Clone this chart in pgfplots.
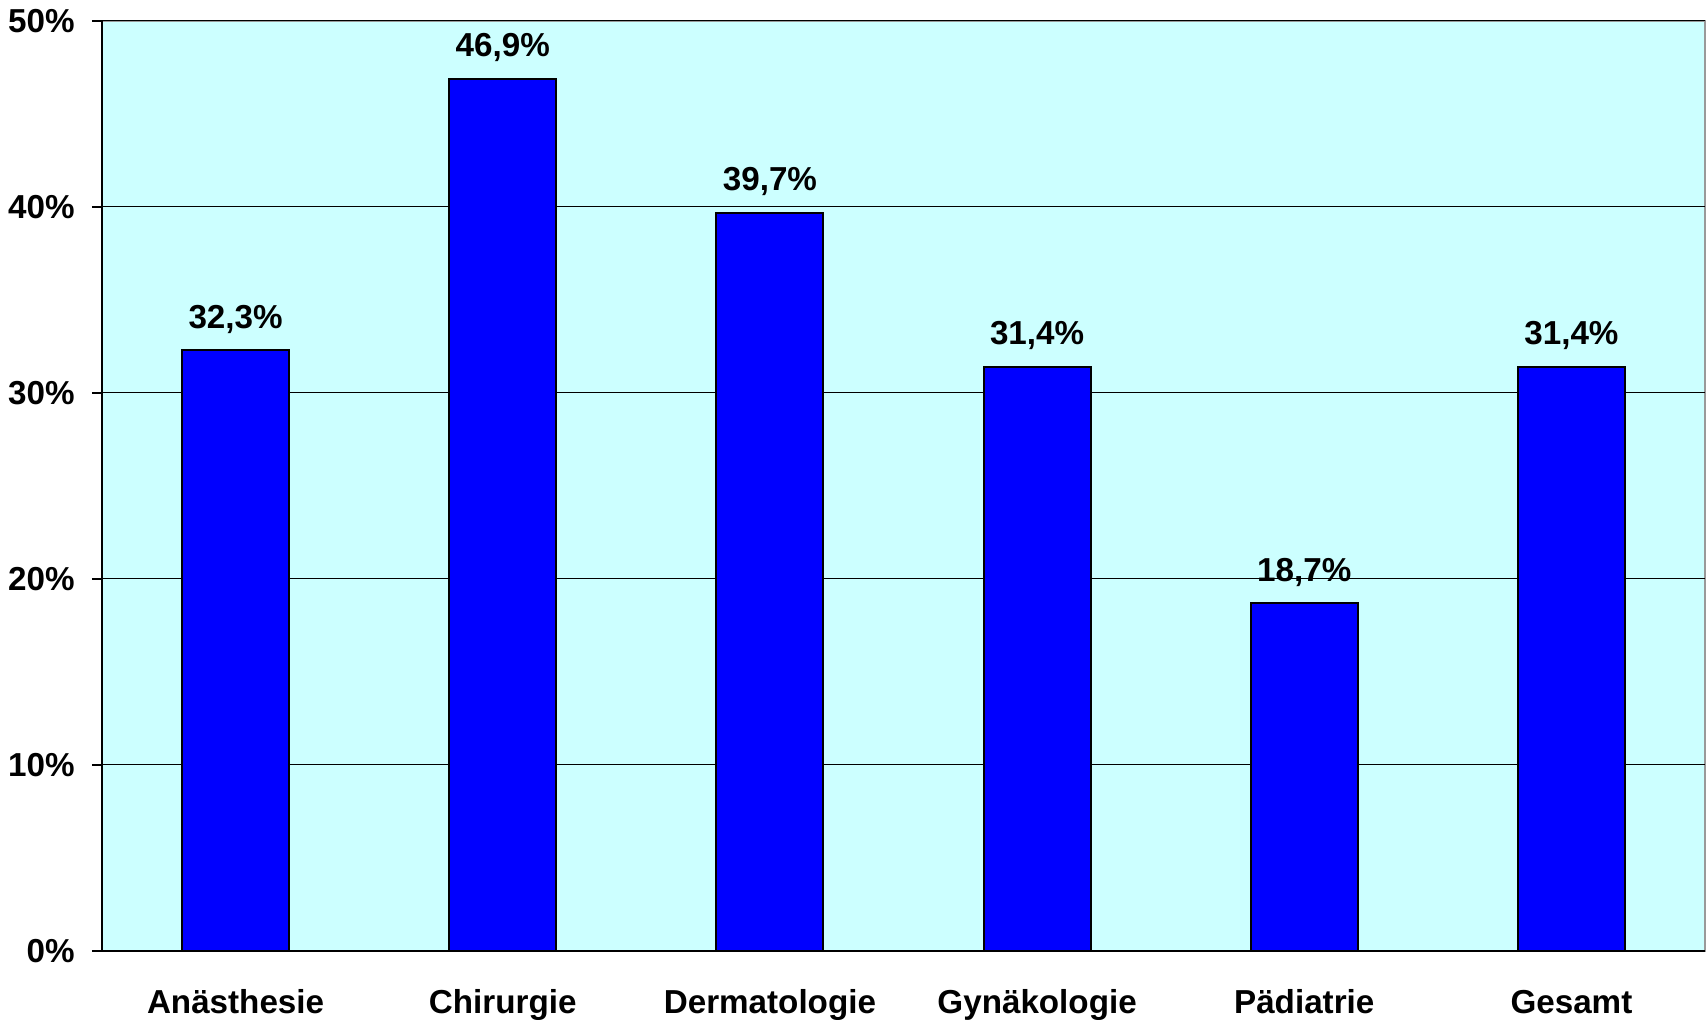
\documentclass[border=0pt]{standalone}
\usepackage{pgfplots}
\pgfplotsset{compat=1.18}
\usepackage{fontspec}
\setmainfont{Liberation Sans}
\definecolor{bgc}{HTML}{CCFFFF}
\definecolor{barc}{HTML}{0000FF}
\begin{document}
\begin{tikzpicture}
\begin{axis}[
  name=ax,
  width=801.5pt, height=465pt, scale only axis,
  xmin=-0.5, xmax=5.5, ymin=0, ymax=50,
  axis x line*=bottom, axis y line*=left,
  axis line style={-, black, line width=0.6pt},
  axis background/.style={fill=bgc, draw=gray!80, line width=1pt},
  font=\fontsize{16.6}{19}\selectfont\bfseries,
  /pgf/number format/assume math mode=true,
  xtick={0,1,2,3,4,5},
  xticklabels={Anästhesie,Chirurgie,Dermatologie,Gynäkologie,Pädiatrie,Gesamt},
  minor xtick={-0.5,0.5,1.5,2.5,3.5,4.5,5.5},
  xtick style={draw=none},
  minor x tick style={black, line width=0.6pt},
  tick align=outside,
  minor tick length=5.5pt,
  major tick length=5pt,
  ytick={0,10,20,30,40,50},
  ytick style={black, line width=0.6pt},
  yticklabel={\pgfmathprintnumber{\tick}\%},
  ymajorgrids,
  major grid style={black, line width=0.5pt},
  xticklabel style={anchor=base, inner sep=0pt, yshift=-26.5pt},
  yticklabel style={anchor=east, inner sep=0pt, xshift=-8.5pt},
  ybar, bar width=0.4,
  nodes near coords={\pgfmathprintnumber[fixed,fixed zerofill,precision=1,use comma]{\pgfplotspointmeta}\%},
  every node near coord/.append style={anchor=base, inner sep=0pt, yshift=11pt, black},
]
\addplot[fill=barc, draw=black, line width=1pt] coordinates {
  (0,32.3) (1,46.9) (2,39.7) (3,31.4) (4,18.7) (5,31.4)
};
\end{axis}
\pgfresetboundingbox
\path ([xshift=-51pt,yshift=-34.5pt]ax.south west) rectangle ([xshift=0.5pt,yshift=10.5pt]ax.north east);
\end{tikzpicture}
\end{document}
